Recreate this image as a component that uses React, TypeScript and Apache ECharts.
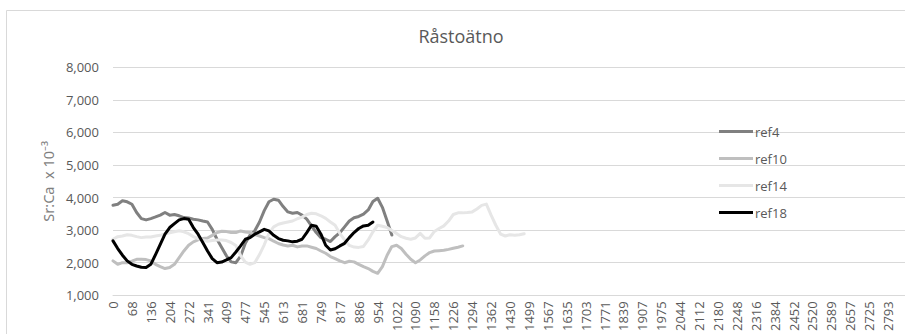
import React, { useEffect, useRef } from "react";
import * as echarts from "echarts";

// Chart texts
const TITLE = "Råstoätno";
const Y_AXIS_NAME = "Sr:Ca  x 10⁻³";

// Distance axis: one category every 17.03 units, labelled every 4th category
const DISTANCE_STEP = 17.0297;
const CATEGORY_COUNT = 169;
const CATEGORIES = Array.from({ length: CATEGORY_COUNT }, (_, i) =>
  String(Math.round(i * DISTANCE_STEP))
);

// Y axis range
const Y_MIN = 1000;
const Y_MAX = 8000;
const Y_STEP = 1000;

// Series
const SERIES_NAMES = ["ref4", "ref10", "ref14", "ref18"];
const SERIES_COLORS = ["#808080", "#bfbfbf", "#e6e6e6", "#000000"];

const REF4 = [
  3765, 3795, 3900, 3870, 3795, 3540, 3355, 3315, 3355, 3405,
  3460, 3540, 3460, 3480, 3440, 3385, 3375, 3335, 3315, 3280,
  3250, 3025, 2720, 2465, 2210, 2025, 2000, 2200, 2600, 2850,
  2980, 3250, 3600, 3870, 3950, 3920, 3725, 3560, 3520, 3540,
  3460, 3335, 3130, 2925, 2770, 2720, 2650, 2800, 2920, 3100,
  3280, 3380, 3420, 3490, 3620, 3880, 3980, 3700, 3280, 2850,
];

const REF10 = [
  2055, 1950, 2000, 2000, 2045, 2105, 2105, 2095, 2055, 1950,
  1880, 1820, 1850, 1950, 2155, 2360, 2535, 2640, 2700, 2740,
  2760, 2840, 2925, 2965, 2955, 2925, 2925, 2975, 2945, 2925,
  2865, 2820, 2770, 2740, 2660, 2590, 2545, 2515, 2535, 2485,
  2515, 2515, 2475, 2435, 2360, 2290, 2190, 2125, 2055, 2000,
  2045, 2025, 1950, 1880, 1820, 1735, 1675, 1880, 2230, 2495,
  2535, 2435, 2260, 2105, 2000, 2085, 2210, 2310, 2360, 2370,
  2380, 2410, 2445, 2475, 2515,
];

const REF14 = [
  2720, 2800, 2820, 2860, 2840, 2800, 2770, 2790, 2790, 2820,
  2840, 2880, 2920, 2950, 2980, 2950, 2890, 2800, 2740, 2700,
  2660, 2680, 2700, 2700, 2680, 2620, 2530, 2220, 2020, 1950,
  2000, 2250, 2550, 2900, 3100, 3180, 3220, 3250, 3280, 3350,
  3400, 3480, 3520, 3500, 3440, 3360, 3250, 3150, 2900, 2700,
  2530, 2480, 2470, 2500, 2700, 2950, 3150, 3120, 3080, 2990,
  2900, 2800, 2750, 2720, 2760, 2900, 2750, 2760, 2960, 3050,
  3130, 3280, 3480, 3530, 3530, 3540, 3560, 3650, 3760, 3800,
  3460, 3150, 2880, 2820, 2860, 2840, 2860, 2890,
];

const REF18 = [
  2670, 2435, 2230, 2055, 1950, 1900, 1860, 1850, 1950, 2250,
  2565, 2875, 3080, 3200, 3315, 3355, 3335, 3080, 2875, 2620,
  2360, 2125, 2000, 2020, 2085, 2155, 2330, 2515, 2720, 2770,
  2875, 2945, 3025, 2975, 2840, 2740, 2690, 2670, 2640, 2660,
  2720, 2925, 3150, 3120, 2875, 2535, 2390, 2430, 2515, 2595,
  2770, 2925, 3050, 3130, 3150, 3250,
];

const SERIES_VALUES = [REF4, REF10, REF14, REF18];

const FONT = "'Open Sans', sans-serif";
const TEXT_COLOR = "#595959";
const GRID_COLOR = "#d9d9d9";

export default function App() {
  const ref = useRef<HTMLDivElement>(null);

  useEffect(() => {
    if (!ref.current) return;
    const chart = echarts.init(ref.current, undefined, { renderer: "svg" });

    chart.setOption({
      animation: false,
      backgroundColor: "#ffffff",
      graphic: [
        {
          type: "rect",
          silent: true,
          z: -10,
          shape: { x: 6.5, y: 10.5, width: 1000, height: 500 },
          style: { fill: "none", stroke: GRID_COLOR, lineWidth: 1 },
        },
        {
          type: "text",
          silent: true,
          style: {
            text: TITLE,
            x: 461,
            y: 36,
            align: "center",
            verticalAlign: "middle",
            fill: TEXT_COLOR,
            font: `18px ${FONT}`,
          },
        },
      ],
      legend: {
        orient: "vertical",
        left: 714,
        top: 119.5,
        icon: "rect",
        itemWidth: 34,
        itemHeight: 3,
        itemGap: 13,
        textStyle: {
          color: TEXT_COLOR,
          fontFamily: FONT,
          fontSize: 13,
          lineHeight: 14,
          padding: [0, 0, 0, -3],
        },
        data: SERIES_NAMES,
      },
      grid: {
        left: 113,
        right: 3,
        top: 67.3,
        bottom: 37.3,
        containLabel: false,
      },
      xAxis: {
        type: "category",
        data: CATEGORIES,
        boundaryGap: false,
        axisLine: { show: true, lineStyle: { color: GRID_COLOR, width: 1 } },
        axisTick: { show: false },
        splitLine: { show: false },
        axisLabel: {
          interval: 3,
          rotate: 90,
          margin: 6,
          color: TEXT_COLOR,
          fontFamily: FONT,
          fontSize: 13,
          showMaxLabel: false,
        },
      },
      yAxis: {
        type: "value",
        min: Y_MIN,
        max: Y_MAX,
        interval: Y_STEP,
        name: Y_AXIS_NAME,
        nameLocation: "middle",
        nameRotate: 90,
        nameGap: 54,
        nameTextStyle: {
          color: "#7f7f7f",
          fontFamily: "'Noto Sans', sans-serif",
          fontSize: 14.5,
        },
        axisLine: { show: false },
        axisTick: { show: false },
        splitLine: { show: true, lineStyle: { color: GRID_COLOR, width: 1 } },
        axisLabel: {
          margin: 14,
          color: TEXT_COLOR,
          fontFamily: FONT,
          fontSize: 13,
          formatter: (v: number) => v.toLocaleString("en-US"),
        },
      },
      series: SERIES_NAMES.map((name, k) => ({
        name,
        type: "line",
        data: SERIES_VALUES[k],
        symbol: "none",
        showSymbol: false,
        smooth: false,
        color: SERIES_COLORS[k],
        lineStyle: {
          color: SERIES_COLORS[k],
          width: 3,
          cap: "round",
          join: "round",
        },
        emphasis: { disabled: true },
      })),
    });

    return () => {
      chart.dispose();
    };
  }, []);

  return (
    <div
      style={{
        position: "fixed",
        left: 0,
        top: 0,
        width: 905,
        height: 334,
        overflow: "hidden",
        background: "#ffffff",
      }}
    >
      <div ref={ref} style={{ width: 910, height: 334 }} />
    </div>
  );
}
